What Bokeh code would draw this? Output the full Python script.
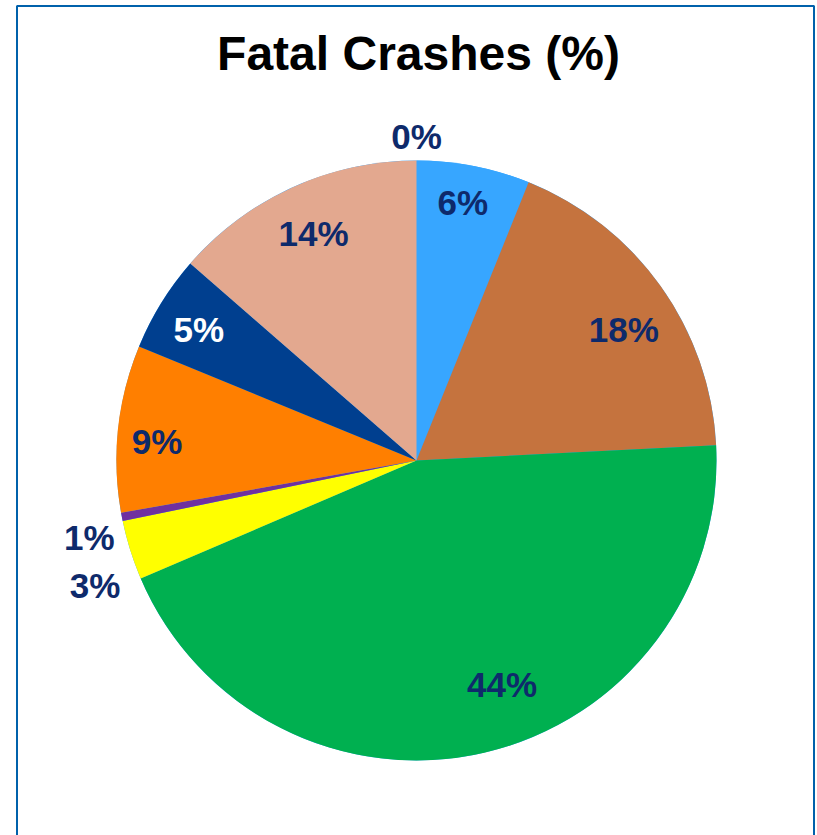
import math
from bokeh.plotting import figure
from bokeh.models import ColumnDataSource, Range1d
from bokeh.core.properties import value
from bokeh.embed import file_html
from bokeh.resources import INLINE

# ---- data ----
title_text = "Fatal Crashes (%)"
categories = ["Cat 1", "Cat 2", "Cat 3", "Cat 4", "Cat 5", "Cat 6", "Cat 7", "Cat 8", "Cat 9"]
shares = [0.0, 6.1, 18.1, 44.4, 3.2, 0.45, 9.0, 5.2, 13.6]
labels = ["0%", "6%", "18%", "44%", "3%", "1%", "9%", "5%", "14%"]
colors = ["#37A6FF", "#37A6FF", "#C5733E", "#00B050", "#FFFF00", "#7030A0",
          "#FF7F00", "#003F8F", "#E3A88F"]
label_colors = ["#0E2A6B", "#0E2A6B", "#0E2A6B", "#0E2A6B", "#0E2A6B", "#0E2A6B",
                "#0E2A6B", "#FFFFFF", "#0E2A6B"]

# ---- label layout (clockwise angle from 12 o'clock in degrees, radius in px) ----
label_angle_deg = [0.0, 10.2, 57.8, 159.1, 248.7, 256.8, 274.1, 301.0, 335.6]
label_radius = [324, 262, 245, 240, 345, 336, 260, 254, 249]

W, H = 817, 835
cx, cy, R = 416, -460, 300

total = sum(shares)
starts, ends = [], []
cum = 0.0
for s in shares:
    starts.append(math.pi / 2 - 2 * math.pi * cum / total)
    cum += s
    ends.append(math.pi / 2 - 2 * math.pi * cum / total)

src = ColumnDataSource(dict(cat=categories, share=shares, start=starts, end=ends, color=colors))

lx = [cx + r * math.sin(math.radians(a)) for a, r in zip(label_angle_deg, label_radius)]
ly = [cy + r * math.cos(math.radians(a)) for a, r in zip(label_angle_deg, label_radius)]
lsrc = ColumnDataSource(dict(x=lx, y=ly, text=labels, color=label_colors))

p = figure(width=W, height=H, output_backend="svg", toolbar_location=None,
           x_range=Range1d(0, W), y_range=Range1d(-H, 0),
           min_border=0, min_border_left=0, min_border_right=0,
           min_border_top=0, min_border_bottom=0)
p.axis.visible = False
p.grid.visible = False
p.outline_line_color = None
p.background_fill_color = "white"
p.border_fill_color = "white"

# frame border (open at the bottom, as in the reference)
p.line(x=[16.5, 16.5, 813.5, 813.5], y=[-900, -5.5, -5.5, -900], line_color="#0061AB", line_width=2)

p.wedge(x=cx, y=cy, radius=R, start_angle="start", end_angle="end", direction="clock",
        fill_color="color", line_color=None, source=src)

p.text(x="x", y="y", text="text", text_color="color", source=lsrc,
       text_font=value("Liberation Sans"), text_font_style="bold", text_font_size="35px",
       text_align="center", text_baseline="middle")

p.text(x=[418], y=[-53], text=[title_text], text_color="black",
       text_font=value("Liberation Sans"), text_font_style="bold", text_font_size="48px",
       text_align="center", text_baseline="middle")

open("out.html", "w").write(file_html(p, INLINE))
